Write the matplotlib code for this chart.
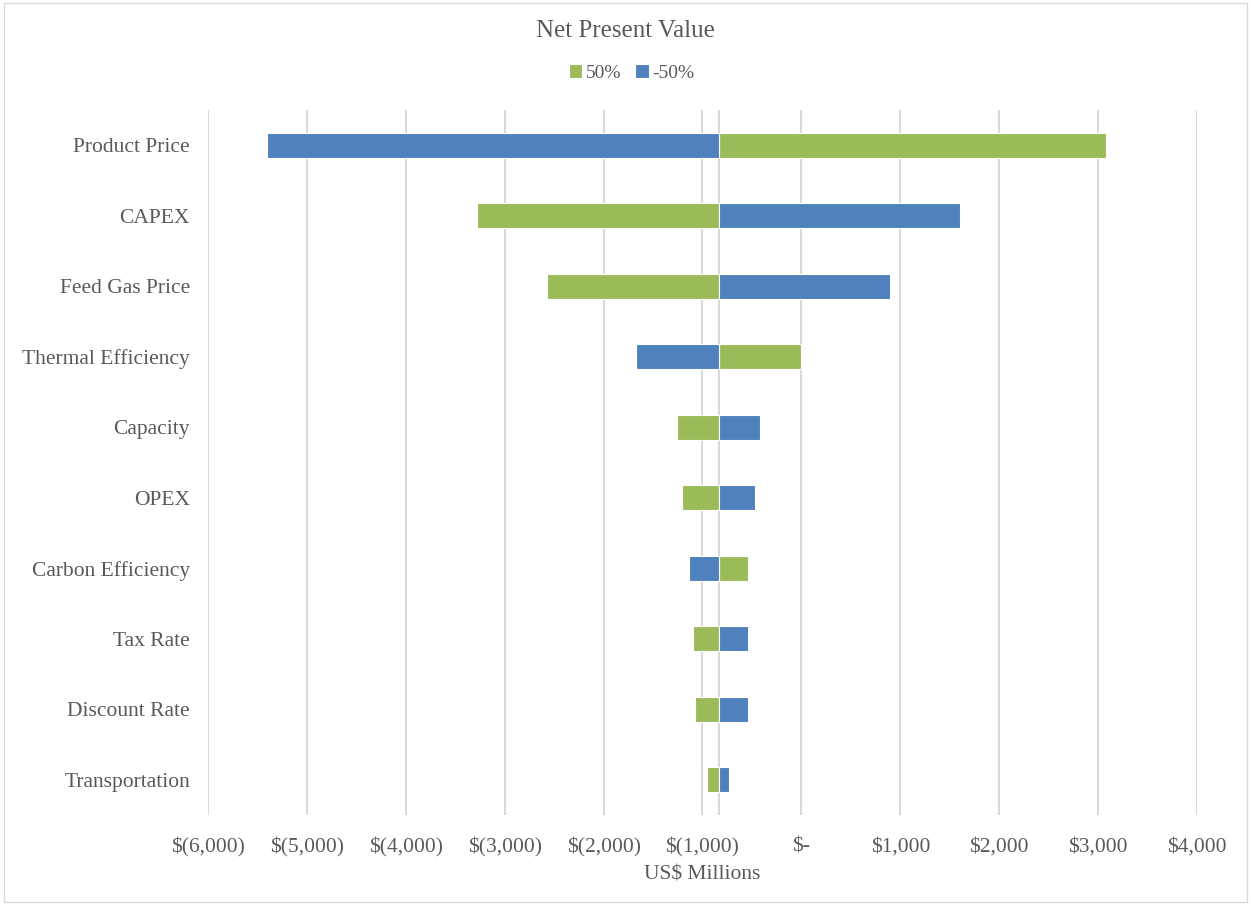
import numpy as np
import matplotlib.pyplot as plt

plt.rcParams['font.family'] = ['Liberation Serif', 'DejaVu Serif']

categories = ["Product Price", "CAPEX", "Feed Gas Price", "Thermal Efficiency", "Capacity",
              "OPEX", "Carbon Efficiency", "Tax Rate", "Discount Rate", "Transportation"]
base_npv = -835
npv_plus50 = [3078, -3280, -2572, 0, -1258, -1207, -540, -1096, -1076, -955]
npv_minus50 = [-5404, 1604, 895, -1672, -419, -469, -1137, -540, -540, -732]
xticks = [-6000, -5000, -4000, -3000, -2000, -1000, 0, 1000, 2000, 3000, 4000]

green = "#9BBB59"
blue = "#4F81BD"
txt = "#595959"


def money(v):
    if v == 0:
        return "$-"
    if v < 0:
        return "$({:,})".format(-v)
    return "${:,}".format(v)


fig = plt.figure(figsize=(12.51, 9.05), dpi=100)
ax = fig.add_axes([0.1663, 0.0994, 0.7905, 0.7790])

y = np.arange(len(categories))
plus = np.array(npv_plus50)
minus = np.array(npv_minus50)
h = 0.36
ax.barh(y, plus - base_npv, left=base_npv, height=h, color=green, edgecolor="white",
        linewidth=0.8, label="50%", zorder=3)
ax.barh(y, minus - base_npv, left=base_npv, height=h, color=blue, edgecolor="white",
        linewidth=0.8, label="-50%", zorder=3)

ax.axvline(base_npv, color="#D9D9D9", linewidth=1.5, zorder=2)
for xt in xticks:
    ax.axvline(xt, color="#D9D9D9", linewidth=1.5, zorder=1)

ax.set_xlim(-6000, 4000)
ax.set_ylim(len(categories) - 0.5, -0.5)
ax.set_xticks(xticks)
ax.set_xticklabels([money(v) for v in xticks], fontsize=15.5, color=txt)
ax.set_yticks(y)
ax.set_yticklabels(categories, fontsize=15.5, color=txt)
ax.tick_params(axis="x", length=0, pad=16)
ax.tick_params(axis="y", length=0, pad=13)
for s in ax.spines.values():
    s.set_visible(False)

ax.set_xlabel("US$ Millions", fontsize=15.5, color=txt, labelpad=6)
fig.text(0.5, 0.966, "Net Present Value", ha="center", va="center", fontsize=18, color=txt)

leg = fig.legend(loc="center", bbox_to_anchor=(0.505, 0.919), ncol=2, frameon=False,
                 fontsize=14, handlelength=0.7, handleheight=0.7, handletextpad=0.2,
                 columnspacing=0.7, labelcolor=txt)

fig.patches.append(plt.Rectangle((0.003, 0.003), 0.994, 0.994, transform=fig.transFigure,
                                 fill=False, edgecolor="#D9D9D9", linewidth=1))

fig.savefig("out.png", dpi=100)
